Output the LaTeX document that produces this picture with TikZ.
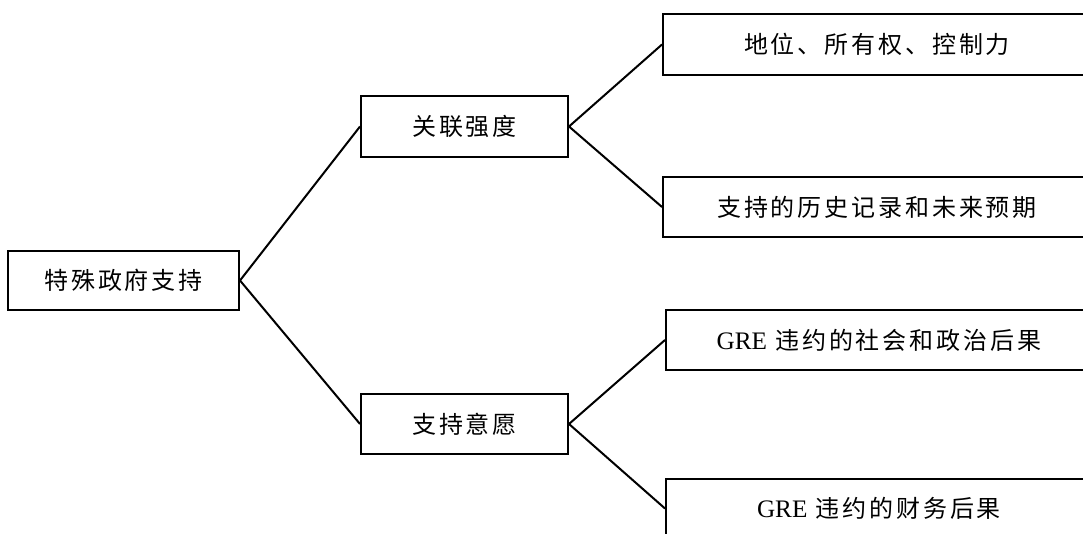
\documentclass[tikz,border=0pt]{standalone}
\usepackage{fontspec}
\setmainfont{Liberation Serif}
\newfontfamily\cjk[LetterSpace=12]{Noto Sans CJK SC}
\newfontfamily\lat[Scale=1.05]{Liberation Serif}
\begin{document}
\begin{tikzpicture}[x=1pt,y=-1pt,
  box/.style={draw=black,line width=2pt,rectangle,inner sep=0pt,
    font=\fontsize{24}{28}\selectfont\cjk},
  link/.style={line width=2pt,black}]
\useasboundingbox (0,0) rectangle (1083,534);
\clip (0,0) rectangle (1083,534);
\node[box,minimum width=231pt,minimum height=59pt] (root) at (123.5,280.5) {特殊政府支持};
\node[box,minimum width=207pt,minimum height=61pt] (m1) at (464.5,126.5) {关联强度};
\node[box,minimum width=207pt,minimum height=60pt] (m2) at (464.5,424) {支持意愿};
\node[box,minimum width=428pt,minimum height=61pt] (l1) at (877,44.5) {地位、所有权、控制力};
\node[box,minimum width=428pt,minimum height=60pt] (l2) at (877,207) {支持的历史记录和未来预期};
\node[box,minimum width=426pt,minimum height=60pt] (l3) at (879,340) {{\lat GRE} 违约的社会和政治后果};
\node[box,minimum width=426pt,minimum height=59pt] (l4) at (879,508.5) {{\lat GRE} 违约的财务后果};
\draw[link] (m1.west) -- (root.east) -- (m2.west);
\draw[link] (l1.west) -- (m1.east) -- (l2.west);
\draw[link] (l3.west) -- (m2.east) -- (l4.west);
\end{tikzpicture}
\end{document}
